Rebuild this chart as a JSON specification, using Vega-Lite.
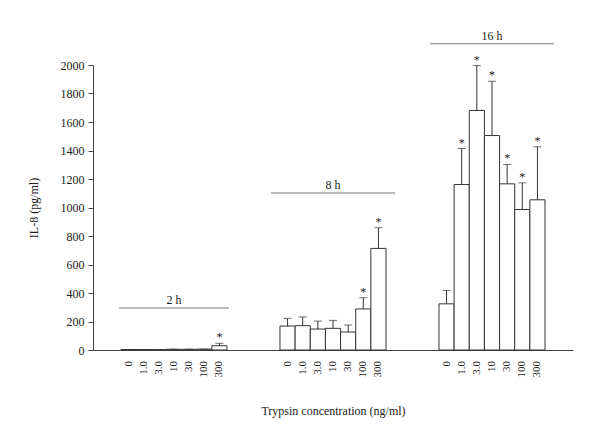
{
  "$schema": "https://vega.github.io/schema/vega-lite/v6.json",
  "autosize": "none",
  "width": 480,
  "height": 285,
  "padding": {"left": 93, "top": 65, "right": 27, "bottom": 91},
  "background": "white",
  "config": {
    "font": "Liberation Serif",
    "view": {"stroke": null},
    "axis": {"labelFont": "Liberation Serif", "titleFont": "Liberation Serif", "titleFontWeight": "normal", "domainColor": "#444", "tickColor": "#444", "labelColor": "#222", "titleColor": "#222"},
    "axisY": {"grid": false, "format": "d", "labelOverlap": false, "labelBound": false, "titleFontSize": 12, "labelFontSize": 12, "tickSize": 5, "labelPadding": 4, "titlePadding": 20}
  },
  "datasets": {
    "bars": [
      {"group": "2 h", "conc": "0", "value": 3, "err": 3, "sig": false},
      {"group": "2 h", "conc": "1.0", "value": 3, "err": 3, "sig": false},
      {"group": "2 h", "conc": "3.0", "value": 2, "err": 2, "sig": false},
      {"group": "2 h", "conc": "10", "value": 5, "err": 5, "sig": false},
      {"group": "2 h", "conc": "30", "value": 5, "err": 5, "sig": false},
      {"group": "2 h", "conc": "100", "value": 6, "err": 6, "sig": false},
      {"group": "2 h", "conc": "300", "value": 30, "err": 47, "sig": true},
      {"group": "8 h", "conc": "0", "value": 168, "err": 222, "sig": false},
      {"group": "8 h", "conc": "1.0", "value": 171, "err": 232, "sig": false},
      {"group": "8 h", "conc": "3.0", "value": 147, "err": 203, "sig": false},
      {"group": "8 h", "conc": "10", "value": 152, "err": 208, "sig": false},
      {"group": "8 h", "conc": "30", "value": 126, "err": 175, "sig": false},
      {"group": "8 h", "conc": "100", "value": 288, "err": 367, "sig": true},
      {"group": "8 h", "conc": "300", "value": 713, "err": 858, "sig": true},
      {"group": "16 h", "conc": "0", "value": 324, "err": 418, "sig": false},
      {"group": "16 h", "conc": "1.0", "value": 1161, "err": 1414, "sig": true},
      {"group": "16 h", "conc": "3.0", "value": 1681, "err": 1996, "sig": true},
      {"group": "16 h", "conc": "10", "value": 1505, "err": 1886, "sig": true},
      {"group": "16 h", "conc": "30", "value": 1166, "err": 1302, "sig": true},
      {"group": "16 h", "conc": "100", "value": 986, "err": 1173, "sig": true},
      {"group": "16 h", "conc": "300", "value": 1054, "err": 1426, "sig": true}
    ],
    "groups": [
      {"group": "2 h", "y": 295},
      {"group": "8 h", "y": 1102},
      {"group": "16 h", "y": 2150}
    ]
  },
  "encoding": {
    "x": {
      "field": "group", "type": "nominal",
      "scale": {"domain": ["2 h", "8 h", "16 h"], "paddingInner": 0.333, "paddingOuter": 0.176},
      "axis": {"labels": false, "ticks": false, "domain": true, "title": "Trypsin concentration (ng/ml)", "titlePadding": 55, "titleFontSize": 12}
    }
  },
  "layer": [
    {
      "data": {"name": "bars"},
      "mark": {"type": "bar", "fill": "white", "stroke": "#333", "strokeWidth": 1},
      "encoding": {
        "xOffset": {"field": "conc", "type": "nominal", "scale": {"domain": ["0", "1.0", "3.0", "10", "30", "100", "300"], "paddingInner": 0, "paddingOuter": 0}},
        "y": {
          "field": "value", "type": "quantitative",
          "scale": {"domain": [0, 2000], "nice": false},
          "axis": {"values": [0, 200, 400, 600, 800, 1000, 1200, 1400, 1600, 1800, 2000], "title": "IL-8 (pg/ml)"}
        }
      }
    },
    {
      "data": {"name": "bars"},
      "mark": {"type": "rule", "color": "#333", "strokeWidth": 1},
      "encoding": {
        "xOffset": {"field": "conc", "type": "nominal"},
        "y": {"field": "value", "type": "quantitative", "axis": {"values": [0, 200, 400, 600, 800, 1000, 1200, 1400, 1600, 1800, 2000], "title": "IL-8 (pg/ml)"}},
        "y2": {"field": "err"}
      }
    },
    {
      "data": {"name": "bars"},
      "mark": {"type": "tick", "color": "#333", "size": 8, "thickness": 1},
      "encoding": {
        "xOffset": {"field": "conc", "type": "nominal"},
        "y": {"field": "err", "type": "quantitative", "axis": {"values": [0, 200, 400, 600, 800, 1000, 1200, 1400, 1600, 1800, 2000], "title": "IL-8 (pg/ml)"}}
      }
    },
    {
      "data": {"name": "bars"},
      "transform": [{"filter": "datum.sig"}],
      "mark": {"type": "text", "text": "*", "fontSize": 12, "fill": "#222", "baseline": "alphabetic", "dy": -2},
      "encoding": {
        "xOffset": {"field": "conc", "type": "nominal"},
        "y": {"field": "err", "type": "quantitative", "axis": {"values": [0, 200, 400, 600, 800, 1000, 1200, 1400, 1600, 1800, 2000], "title": "IL-8 (pg/ml)"}}
      }
    },
    {
      "data": {"name": "bars"},
      "mark": {"type": "text", "angle": 270, "align": "right", "baseline": "middle", "dx": -11, "fontSize": 11, "fill": "#222"},
      "encoding": {
        "xOffset": {"field": "conc", "type": "nominal"},
        "y": {"datum": 0, "type": "quantitative", "axis": {"values": [0, 200, 400, 600, 800, 1000, 1200, 1400, 1600, 1800, 2000], "title": "IL-8 (pg/ml)"}},
        "text": {"field": "conc"}
      }
    },
    {
      "data": {"name": "groups"},
      "mark": {"type": "tick", "color": "#444", "thickness": 1},
      "encoding": {
        "y": {"field": "y", "type": "quantitative", "axis": {"values": [0, 200, 400, 600, 800, 1000, 1200, 1400, 1600, 1800, 2000], "title": "IL-8 (pg/ml)"}},
        "size": {"condition": {"test": "datum.group === '2 h'", "value": 110}, "value": 124}
      }
    },
    {
      "data": {"name": "groups"},
      "mark": {"type": "text", "baseline": "alphabetic", "dy": -4, "fontSize": 12, "fill": "#222"},
      "encoding": {
        "y": {"field": "y", "type": "quantitative", "axis": {"values": [0, 200, 400, 600, 800, 1000, 1200, 1400, 1600, 1800, 2000], "title": "IL-8 (pg/ml)"}},
        "text": {"field": "group"}
      }
    }
  ]
}
